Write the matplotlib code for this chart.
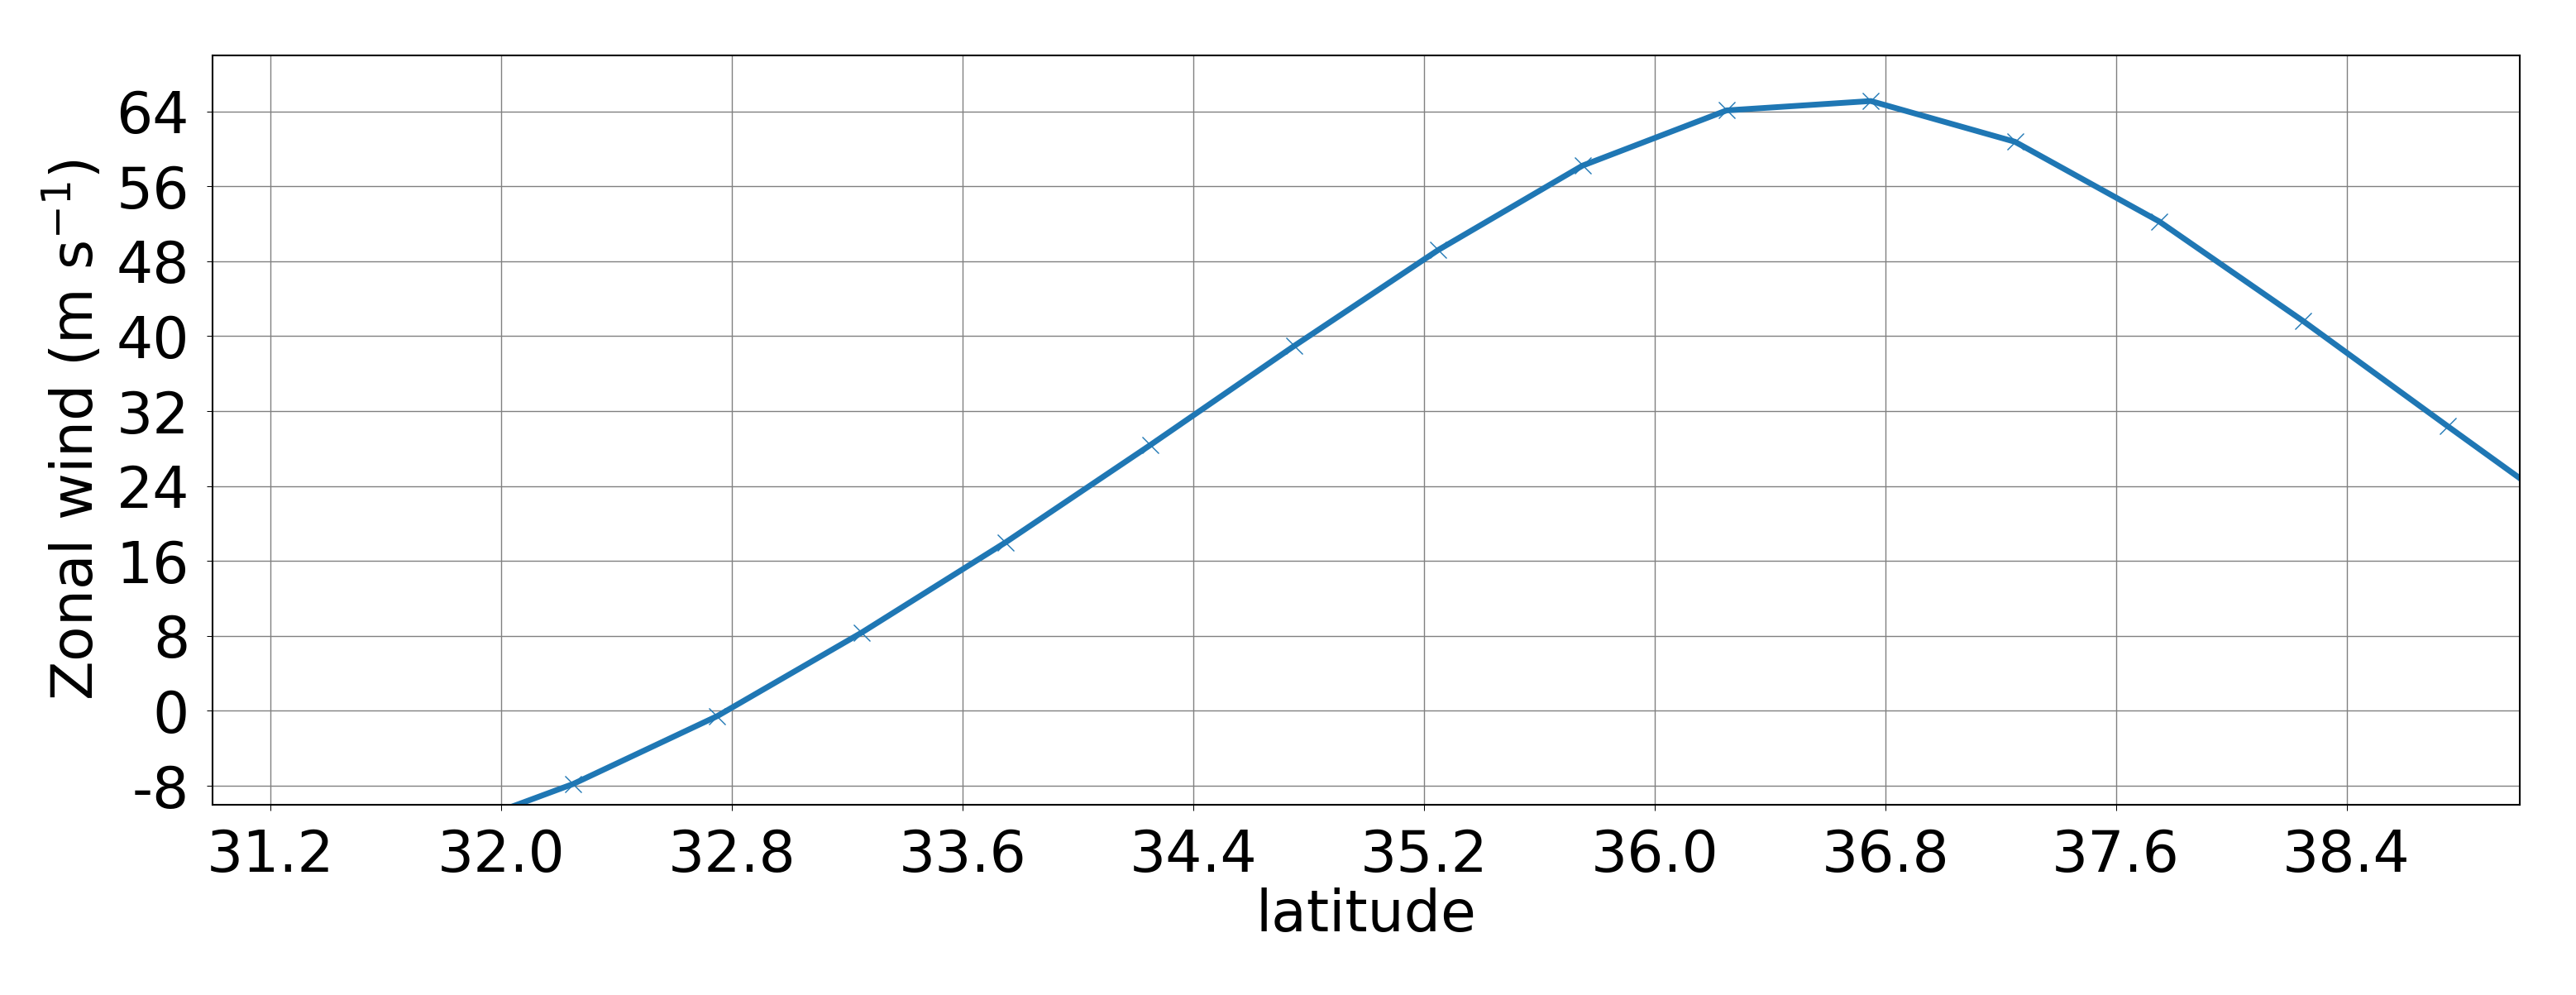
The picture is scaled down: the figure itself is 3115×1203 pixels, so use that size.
import matplotlib
matplotlib.use("Agg")
import matplotlib.pyplot as plt
from matplotlib.ticker import MultipleLocator, FormatStrFormatter

# latitude of each grid point and the zonal wind there
latitude = [31.75, 32.25, 32.75, 33.25, 33.75, 34.25, 34.75, 35.25,
            35.75, 36.25, 36.75, 37.25, 37.75, 38.25, 38.75, 39.25]
zonal_wind = [-13.5, -7.8, -0.55, 8.35, 18.0, 28.35, 38.95, 49.2,
              58.2, 64.1, 65.1, 60.75, 52.25, 41.6, 30.4, 19.3]

plt.rcParams['axes.unicode_minus'] = False
plt.rcParams['font.size'] = 50

fig = plt.figure(figsize=(31.15, 12.03), dpi=100)
ax = fig.add_axes([0.0826, 0.1914, 0.8955, 0.7532])

ax.plot(latitude, zonal_wind, color="#1f77b4", linewidth=5,
        marker="x", markersize=15, markeredgewidth=1.0)

ax.set_xlim(31.0, 39.0)
ax.set_ylim(-10, 70)
ax.xaxis.set_major_locator(MultipleLocator(0.8))
ax.xaxis.set_major_formatter(FormatStrFormatter('%.1f'))
ax.yaxis.set_major_locator(MultipleLocator(8))

ax.grid(True, color="grey", linewidth=1.0)
ax.set_axisbelow(True)
ax.tick_params(length=5.3, width=0.75, pad=15, labelsize=50)
for s in ax.spines.values():
    s.set_linewidth(1.5)

ax.set_xlabel("latitude", fontsize=50)
ax.set_ylabel("Zonal wind (m s$^{-1}$)", fontsize=50, labelpad=10)

fig.savefig("out.png", dpi=100)
